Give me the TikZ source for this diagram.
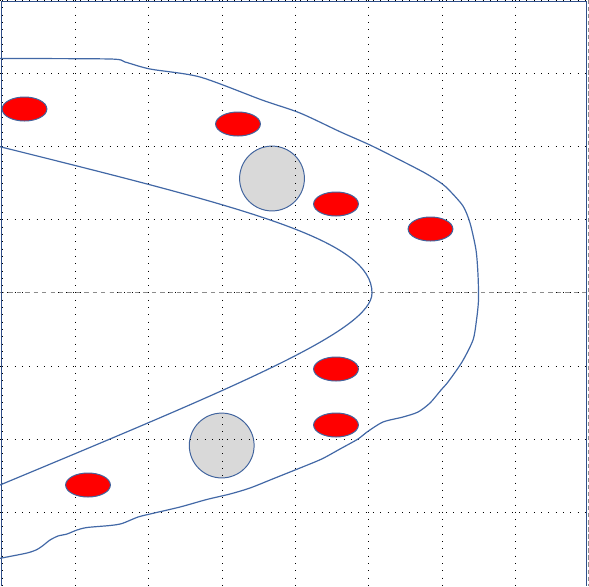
\documentclass[tikz,border=0pt]{standalone}
\usepackage{tikz}
\usetikzlibrary{calc}
\usepackage{xcolor}
\definecolor{framec}{HTML}{2F4F8A}
\definecolor{curvec}{HTML}{4268A6}
\definecolor{edgec}{HTML}{41649E}
\definecolor{discc}{HTML}{D9D9D9}

\begin{document}
\begin{tikzpicture}[x=0.025cm, y=-0.025cm,
    gridline/.style={black, line width=0.7pt, dash pattern=on 0.7pt off 4.5pt},
    laneline/.style={curvec, line width=0.85pt},
    disc/.style={fill=discc, draw=edgec, line width=0.7pt},
    spot/.style={fill=red, draw=edgec, line width=0.7pt}]
  \useasboundingbox (0,0) rectangle (589,586);
  % grey discs (the grid shows through them)
  \draw[disc] (272,178.5) circle (0.81cm);
  \draw[disc] (221.7,445.5) circle (0.81cm);
  % dotted grid
  \draw[gridline] (75.5,0) -- (75.5,586);
  \draw[gridline] (148.8,0) -- (148.8,586);
  \draw[gridline] (222.1,0) -- (222.1,586);
  \draw[gridline] (295.4,0) -- (295.4,586);
  \draw[gridline] (368.7,0) -- (368.7,586);
  \draw[gridline] (442,0) -- (442,586);
  \draw[gridline] (515.3,0) -- (515.3,586);
  \draw[gridline] (0,73.2) -- (589,73.2);
  \draw[gridline] (0,146.4) -- (589,146.4);
  \draw[gridline] (0,219.6) -- (589,219.6);
  \draw[gridline] (0,292.8) -- (589,292.8);
  \draw[black!45, line width=0.7pt, dash pattern=on 3pt off 3pt] (0,292.8) -- (589,292.8);
  \draw[gridline] (0,366) -- (589,366);
  \draw[gridline] (0,439.2) -- (589,439.2);
  \draw[gridline] (0,512.4) -- (589,512.4);
  \draw[gridline] (0,0.4) -- (589,0.4);
  \draw[gridline] (2.6,0) -- (2.6,586);
  \draw[black!45, line width=0.7pt, dash pattern=on 3pt off 2pt] (588.3,0) -- (588.3,586);
  % frame
  \draw[framec, line width=0.8pt] (1.5,586) -- (1.5,1.3) -- (586.7,1.3) -- (586.7,586);
  % inner boundary
  \draw[laneline] (0,146.7) .. controls (250,209) and (372,240) .. (372,293)
    .. controls (372,330) and (240,385) .. (0,485);
  % outer boundary
  \draw[laneline] plot[smooth, tension=0.45] coordinates {
    (0,58.5) (110,59) (125,62) (150,69) (200,77) (262,100) (300,113)
    (340,131.7) (370,145) (400,160) (425,173) (441,183) (449,190)
    (463,206) (470,223) (476,250) (478,275) (478.5,300) (476.5,320)
    (473,340) (462,362) (448,382) (441,390) (430,403) (418,412)
    (403,417) (383,422) (367,432) (358,439) (340,449) (321.7,459)
    (300,468) (275,478) (250,488) (230,494) (206.7,499.5) (180,507)
    (150,514) (138,517) (122,523.5) (110,525.5) (87,527.5) (77,530)
    (67,534) (58,536) (50,540) (43,545.5) (37,549.5) (27,553) (0,558.3)};
  % red spots
  \draw[spot] (24.5,109) ellipse (0.56cm and 0.3cm);
  \draw[spot] (238,124) ellipse (0.56cm and 0.3cm);
  \draw[spot] (336,204) ellipse (0.56cm and 0.3cm);
  \draw[spot] (430.5,229) ellipse (0.56cm and 0.3cm);
  \draw[spot] (336,369) ellipse (0.56cm and 0.3cm);
  \draw[spot] (336,425) ellipse (0.56cm and 0.3cm);
  \draw[spot] (88,485) ellipse (0.56cm and 0.3cm);
\end{tikzpicture}
\end{document}
